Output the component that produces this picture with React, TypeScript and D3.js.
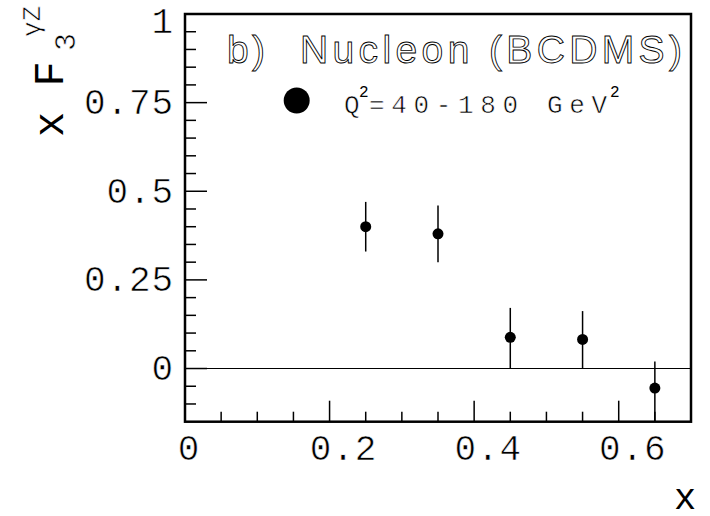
import React from 'react';
import * as d3 from 'd3';

// data
const xValues = [0.25, 0.35, 0.45, 0.55, 0.65];
const yValues = [0.40, 0.38, 0.088, 0.082, -0.055];
const errUp = [0.07, 0.08, 0.083, 0.08, 0.075];
const errDown = [0.07, 0.08, 0.088, 0.082, 0.1];

const xMajor = [0, 0.2, 0.4, 0.6];
const xLabels = ['0', '0.2', '0.4', '0.6'];
const yMajor = [0, 0.25, 0.5, 0.75, 1];
const yLabels = ['0', '0.25', '0.5', '0.75', '1'];

const W = 710, H = 516;
const left = 185, right = 691, top = 14, bottom = 421.7;
const mono = '"Liberation Mono", "DejaVu Sans Mono", monospace';
const sans = '"Liberation Sans", Arial, sans-serif';
// thin the mono glyphs a little, the original font is lighter
const thin = { stroke: '#fff', strokeWidth: 0.6 };

export default function App() {
  const x = d3.scaleLinear().domain([0, 0.7]).range([left, right]);
  const y = d3.scaleLinear().domain([-0.15, 1]).range([bottom, top]);
  const yc = y.copy().clamp(true);

  const xMinor = d3.range(0.05, 0.7, 0.05).filter(v => !xMajor.some(m => Math.abs(m - v) < 1e-6));
  const yMinor = d3.range(-0.1, 1.0, 0.05).filter(v => !yMajor.some(m => Math.abs(m - v) < 1e-6));

  return (
    <svg width={W} height={H} style={{ position: 'absolute', left: 0, top: 0, background: '#fff' }}>
      {/* ticks */}
      {xMinor.map((v, i) => (
        <line key={'xm' + i} x1={x(v)} x2={x(v)} y1={bottom} y2={bottom - 10} stroke="#000" strokeWidth={1.5} />
      ))}
      {xMajor.map((v, i) => (
        <line key={'xM' + i} x1={x(v)} x2={x(v)} y1={bottom} y2={bottom - 21} stroke="#000" strokeWidth={1.5} />
      ))}
      {yMinor.map((v, i) => (
        <line key={'ym' + i} x1={left} x2={left + 11} y1={y(v)} y2={y(v)} stroke="#000" strokeWidth={1.5} />
      ))}
      {yMajor.map((v, i) => (
        <line key={'yM' + i} x1={left} x2={left + 22} y1={y(v)} y2={y(v)} stroke="#000" strokeWidth={1.5} />
      ))}

      {/* zero line */}
      <line x1={left} x2={right} y1={y(0)} y2={y(0)} stroke="#000" strokeWidth={1.2} />

      {/* frame */}
      <rect x={left} y={top} width={right - left} height={bottom - top} fill="none" stroke="#000" strokeWidth={2.5} />

      {/* tick labels */}
      {xLabels.map((t, i) => (
        <text key={'xl' + i} x={x(xMajor[i]) + 4 + 5 * (t.length - 1)} y={460} textAnchor="middle"
          fontFamily={mono} fontSize={36} letterSpacing={0.9} {...thin}>{t}</text>
      ))}
      {yLabels.map((t, i) => (
        <text key={'yl' + i} x={174} y={Math.max(y(yMajor[i]), top + 7) + 11.5} textAnchor="end"
          fontFamily={mono} fontSize={36} letterSpacing={0.9} {...thin}>{t}</text>
      ))}

      {/* axis titles */}
      <text x={685} y={509} textAnchor="middle" fontFamily={mono} fontSize={37}>x</text>
      <g transform="translate(63,137) rotate(-90)">
        <text x={0} y={0} fontFamily={mono} fontSize={42}>x F</text>
        <text x={86} y={12} fontFamily={mono} fontSize={30} {...thin}>3</text>
        <text x={100} y={-23} fontFamily={mono} fontSize={26} {...thin}>γZ</text>
      </g>

      {/* title */}
      <text x={227} y={63} fontFamily={sans} fontSize={39} fill="#fff" stroke="#000" strokeWidth={0.9}
        textLength={38} lengthAdjust="spacing">b)</text>
      <text x={300} y={63} fontFamily={sans} fontSize={39} fill="#fff" stroke="#000" strokeWidth={0.9}
        textLength={382} lengthAdjust="spacing">Nucleon (BCDMS)</text>

      {/* legend */}
      <circle cx={296.7} cy={100.5} r={13} fill="#000" />
      <text x={344} y={113} fontFamily={mono} fontSize={26} {...thin}>Q</text>
      <text x={359} y={97} fontFamily={mono} fontSize={16}>2</text>
      <text x={369} y={113} fontFamily={mono} fontSize={26} textLength={238} lengthAdjust="spacing" {...thin}>=40-180 GeV</text>
      <text x={610} y={97} fontFamily={mono} fontSize={16}>2</text>

      {/* data */}
      {xValues.map((xv, i) => (
        <g key={'p' + i}>
          <line x1={x(xv)} x2={x(xv)} y1={yc(yValues[i] + errUp[i])} y2={yc(yValues[i] - errDown[i])}
            stroke="#000" strokeWidth={1.5} />
          <circle cx={x(xv)} cy={y(yValues[i])} r={5.5} fill="#000" />
        </g>
      ))}
    </svg>
  );
}
